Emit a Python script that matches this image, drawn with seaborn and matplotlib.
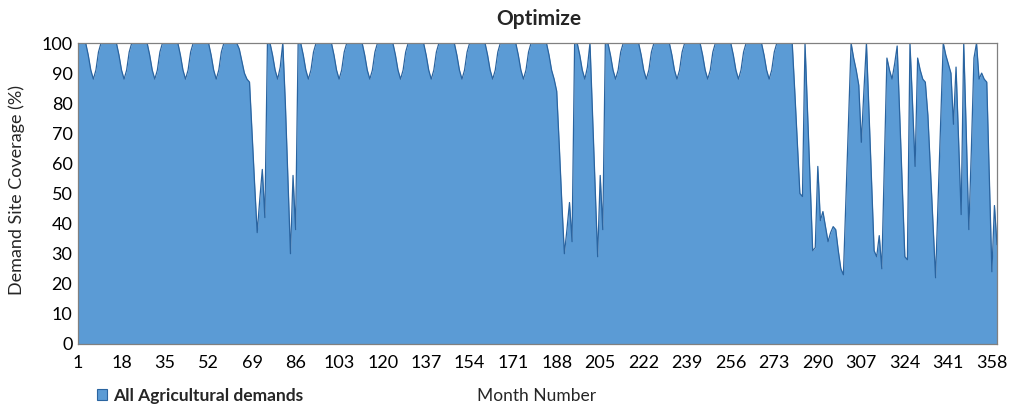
import numpy as np
import pandas as pd
import seaborn as sns
import matplotlib.pyplot as plt
from matplotlib.patches import Patch

# ---------------- data ----------------
# Demand site coverage (%) for months 1..360, one row per 12 months
coverage_rows = [
    [100, 100, 100, 100, 96, 91, 88, 91, 97, 100, 100, 100],   # 1-12
    [100, 100, 100, 100, 96, 91, 88, 91, 97, 100, 100, 100],   # 13-24
    [100, 100, 100, 100, 96, 91, 88, 91, 97, 100, 100, 100],   # 25-36
    [100, 100, 100, 100, 96, 91, 88, 91, 97, 100, 100, 100],   # 37-48
    [100, 100, 100, 100, 96, 91, 88, 91, 97, 100, 100, 100],   # 49-60
    [100, 100, 100, 98, 94, 90, 88, 87, 70, 53, 37, 48],       # 61-72
    [58, 42, 100, 100, 96, 91, 88, 92, 100, 80, 55, 30],       # 73-84
    [56, 38, 100, 100, 96, 91, 88, 91, 97, 100, 100, 100],     # 85-96
    [100, 100, 100, 100, 96, 91, 88, 91, 97, 100, 100, 100],   # 97-108
    [100, 100, 100, 100, 96, 91, 88, 91, 97, 100, 100, 100],   # 109-120
    [100, 100, 100, 100, 96, 91, 88, 91, 97, 100, 100, 100],   # 121-132
    [100, 100, 100, 100, 96, 91, 88, 91, 97, 100, 100, 100],   # 133-144
    [100, 100, 100, 100, 96, 91, 88, 91, 97, 100, 100, 100],   # 145-156
    [100, 100, 100, 100, 96, 91, 88, 91, 97, 100, 100, 100],   # 157-168
    [100, 100, 100, 100, 96, 91, 88, 91, 97, 100, 100, 100],   # 169-180
    [100, 100, 100, 100, 96, 91, 88, 84, 66, 47, 30, 38],      # 181-192
    [47, 34, 100, 100, 96, 91, 88, 92, 100, 76, 52, 29],       # 193-204
    [56, 38, 100, 100, 96, 91, 88, 91, 97, 100, 100, 100],     # 205-216
    [100, 100, 100, 100, 96, 91, 88, 91, 97, 100, 100, 100],   # 217-228
    [100, 100, 100, 100, 96, 91, 88, 91, 97, 100, 100, 100],   # 229-240
    [100, 100, 100, 100, 96, 91, 88, 91, 97, 100, 100, 100],   # 241-252
    [100, 100, 100, 100, 96, 91, 88, 91, 97, 100, 100, 100],   # 253-264
    [100, 100, 100, 100, 96, 91, 88, 91, 97, 100, 100, 100],   # 265-276
    [100, 100, 100, 100, 84, 67, 50, 49, 100, 77, 54, 31],     # 277-288
    [32, 59, 41, 44, 39, 34, 37, 39, 38, 31, 25, 23],          # 289-300
    [48, 74, 100, 95, 91, 86, 67, 84, 100, 77, 54, 31],        # 301-312
    [29, 36, 25, 60, 95, 91, 88, 93, 99, 76, 52, 29],          # 313-324
    [28, 100, 80, 59, 95, 91, 88, 87, 76, 58, 40, 22],         # 325-336
    [48, 75, 100, 96, 93, 90, 73, 92, 68, 43, 100, 70],        # 337-348
    [38, 65, 95, 100, 88, 90, 88, 87, 55, 24, 46, 33],         # 349-360
]
x_tick_months = [1, 18, 35, 52, 69, 86, 103, 120, 137, 154, 171, 188, 205,
                 222, 239, 256, 273, 290, 307, 324, 341, 358]
y_ticks = [0, 10, 20, 30, 40, 50, 60, 70, 80, 90, 100]
series_name = "All Agricultural demands"

coverage = [v for row in coverage_rows for v in row]
months = list(range(1, len(coverage) + 1))
df = pd.DataFrame({"Month": months, "Coverage": coverage})

# ---------------- style ----------------
sns.set_theme(style="white")
plt.rcParams['font.family'] = ['Lato', 'DejaVu Sans']

W, H = 1009, 405
fig = plt.figure(figsize=(W / 100, H / 100), dpi=100)
ax = fig.add_axes([78 / W, 1 - 344 / H, (997 - 78) / W, (344 - 43) / H])

fill_color = "#5B9BD5"
edge_color = "#2A64A0"

ax.fill_between(df["Month"], 0, df["Coverage"], color=fill_color, linewidth=0, zorder=2)
sns.lineplot(data=df, x="Month", y="Coverage", ax=ax, color=edge_color,
             linewidth=0.9, zorder=3, legend=False)

ax.set_xlim(1, len(coverage))
ax.set_ylim(0, 100)
ax.set_xticks(x_tick_months)
ax.set_xticklabels([str(m) for m in x_tick_months])
ax.set_yticks(y_ticks)
ax.set_yticklabels([str(v) for v in y_ticks])
ax.tick_params(axis="both", length=0, labelsize=13, colors="#000000")
ax.tick_params(axis="x", pad=8)
ax.tick_params(axis="y", pad=4)
ax.set_xlabel("")
ax.set_ylabel("")
for side in ["top", "right", "left", "bottom"]:
    ax.spines[side].set_color("#808080")
    ax.spines[side].set_linewidth(0.9)
    ax.spines[side].set_zorder(4)

fig.text(539 / W, 1 - 19 / H, "Optimize", ha="center", va="center",
         fontsize=15, fontweight="bold")
fig.text(537 / W, 1 - 396 / H, "Month Number", ha="center", va="center", fontsize=12.5)
fig.text(17 / W, 1 - 190 / H, "Demand Site Coverage (%)", ha="center", va="center",
         rotation=90, fontsize=13)

handle = Patch(facecolor=fill_color, edgecolor=edge_color, linewidth=0.8)
fig.legend(handles=[handle], labels=[series_name], loc="center left",
           bbox_to_anchor=(81 / W, 1 - 396 / H), frameon=False,
           handlelength=0.6, handleheight=0.6, handletextpad=0.35,
           prop={"weight": "bold", "size": 12.5})

fig.savefig("out.png", dpi=100)
